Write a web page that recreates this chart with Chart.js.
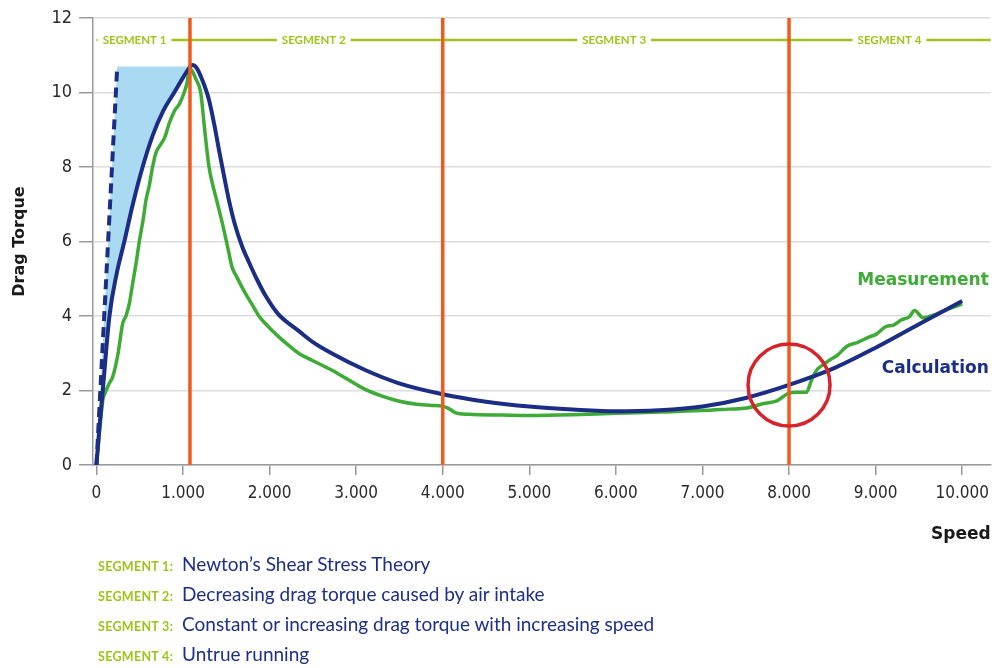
<!DOCTYPE html>
<html>
<head>
<meta charset="utf-8">
<script src="https://cdn.jsdelivr.net/npm/chart.js@4.4.1/dist/chart.umd.min.js"></script>
<style>
  html, body { margin: 0; padding: 0; background: #fff; }
  #wrap { position: relative; width: 997px; height: 668px; }
  #notes { position: absolute; left: 98px; top: 550px; font-family: Lato, "Noto Sans", sans-serif; }
  #notes div { height: 30px; line-height: 28px; white-space: nowrap; }
  #notes .seg { display: inline-block; width: 84px; color: #9dc41a; font-weight: bold; font-size: 12.5px; letter-spacing: 0.3px; }
  #notes .txt { color: #1d2f86; font-size: 19px; }
</style>
</head>
<body>
<div id="wrap">
  <canvas id="chart" width="997" height="668"></canvas>
  <div id="notes"></div>
</div>
<script>
// calculation curve (speed, drag torque)
const calcX = [0, 30, 73, 150, 230, 322, 420, 533, 650, 770, 898, 1000, 1060, 1108, 1160, 1220, 1300, 1360, 1415, 1470, 1530, 1600, 1684, 1760, 1850, 1952, 2100, 2336, 2500, 2716, 3103, 3487, 4000, 4500, 5000, 5500, 6000, 6500, 7000, 7500, 8000, 8500, 9000, 9500, 10000];
const calcY = [0, 0.9, 2.0, 4.0, 5.1, 6.0, 7.0, 8.0, 8.85, 9.5, 10.0, 10.4, 10.62, 10.74, 10.65, 10.35, 9.8, 9.15, 8.46, 7.8, 7.11, 6.45, 5.86, 5.45, 5.0, 4.55, 4.05, 3.6, 3.3, 3.0, 2.55, 2.2, 1.9, 1.7, 1.57, 1.49, 1.44, 1.47, 1.57, 1.8, 2.15, 2.58, 3.15, 3.78, 4.4];

// measured curve
const measX = [0, 40, 73, 112, 150, 188, 250, 303, 341, 380, 420, 457, 495, 540, 572, 610, 648, 690, 740, 790, 840, 900, 960, 1013, 1050, 1070, 1100, 1150, 1204, 1250, 1300, 1340, 1400, 1453, 1511, 1568, 1620, 1722, 1800, 1876, 1950, 2106, 2200, 2336, 2500, 2716, 2900, 3103, 3300, 3487, 3700, 3870, 4000, 4080, 4150, 4300, 4700, 5000, 5500, 6000, 6500, 7000, 7300, 7514, 7706, 7860, 8000, 8100, 8200, 8260, 8320, 8400, 8470, 8560, 8665, 8800, 8930, 9000, 9125, 9200, 9300, 9390, 9450, 9550, 9700, 9850, 10000];
const measY = [0, 1.0, 1.74, 2.0, 2.2, 2.37, 3.0, 3.8, 4.0, 4.34, 4.9, 5.41, 6.0, 6.6, 7.11, 7.5, 8.0, 8.4, 8.6, 8.8, 9.17, 9.5, 9.7, 10.0, 10.3, 10.65, 10.6, 10.35, 10.0, 9.0, 8.0, 7.55, 7.0, 6.5, 5.9, 5.3, 5.05, 4.6, 4.3, 4.0, 3.8, 3.44, 3.25, 3.0, 2.8, 2.55, 2.3, 2.03, 1.85, 1.72, 1.63, 1.6, 1.58, 1.5, 1.4, 1.36, 1.34, 1.33, 1.35, 1.39, 1.42, 1.46, 1.5, 1.53, 1.65, 1.72, 1.93, 1.95, 1.95, 2.28, 2.55, 2.7, 2.82, 2.95, 3.18, 3.3, 3.44, 3.5, 3.72, 3.75, 3.9, 3.98, 4.15, 3.95, 4.05, 4.2, 4.32];

// Newton shear stress tangent (dashed)
const dashX = [0, 240];
const dashY = [0, 10.7];
const fillTopX = 1080;

// segment boundaries and headings
const segBounds = [1080, 4000, 8000];
const segHeadY = 11.41;
const segNames = ["SEGMENT 1", "SEGMENT 2", "SEGMENT 3", "SEGMENT 4"];
const segLabelX = [440, 2510, 5980, 9160];
const segNotes = [
  "Newton\u2019s Shear Stress Theory",
  "Decreasing drag torque caused by air intake",
  "Constant or increasing drag torque with increasing speed",
  "Untrue running"
];

const circleAt = { x: 8000, y: 2.15 };
const xTicks = [0, 1000, 2000, 3000, 4000, 5000, 6000, 7000, 8000, 9000, 10000];

const NAVY = "#1b2d85";
const GREEN = "#3dab35";
const LIME = "#9dc41a";
const ORANGE = "#f15a1c";
const RED = "#d7232c";
const TICK_FONT = '"DejaVu Sans Condensed", "Liberation Sans Narrow", Roboto, sans-serif';
const SMALL_FONT = 'Lato, "Noto Sans", sans-serif';
const BOLD_FONT = '"DejaVu Sans", Lato, sans-serif';

const pts = (xs, ys) => xs.map((x, i) => ({ x, y: ys[i] }));

// light blue area between the tangent and the calculation curve
const fillPts = [
  { x: dashX[0], y: dashY[0] },
  { x: dashX[1], y: dashY[1] },
  { x: fillTopX, y: dashY[1] },
  ...pts(calcX, calcY).filter((p) => p.x < fillTopX && p.x > 0).reverse(),
];

const boundSets = segBounds.map((b) => ({
  data: [{ x: b, y: 0 }, { x: b, y: 12 }],
  showLine: true, borderColor: ORANGE, borderWidth: 3.5, pointRadius: 0, order: 1,
}));

const annotations = {
  id: "annotations",
  afterDatasetsDraw(chart) {
    const { ctx, scales: { x, y }, chartArea } = chart;
    ctx.save();
    ctx.font = "bold 11.5px " + SMALL_FONT;
    ctx.textAlign = "center";
    ctx.textBaseline = "middle";
    segNames.forEach((name, i) => {
      const px = x.getPixelForValue(segLabelX[i]);
      const py = y.getPixelForValue(segHeadY);
      const w = ctx.measureText(name).width + 10;
      ctx.fillStyle = "#fff";
      ctx.fillRect(px - w / 2, py - 6, w, 12);
      ctx.fillStyle = LIME;
      ctx.fillText(name, px, py + 0.5);
    });
    ctx.font = "bold 17px " + BOLD_FONT;
    ctx.textAlign = "right";
    ctx.fillStyle = GREEN;
    ctx.fillText("Measurement", chartArea.right - 2, y.getPixelForValue(4.94));
    ctx.fillStyle = NAVY;
    ctx.fillText("Calculation", chartArea.right - 2, y.getPixelForValue(2.58));
    ctx.restore();
  },
};

new Chart(document.getElementById("chart"), {
  type: "scatter",
  data: {
    datasets: [
      {
        data: fillPts, showLine: true, fill: "shape", borderWidth: 0,
        backgroundColor: "#a9daf2", pointRadius: 0, order: 6,
      },
      {
        data: [{ x: 0, y: segHeadY }, { x: 10330, y: segHeadY }],
        showLine: true, borderColor: LIME, borderWidth: 2.5, pointRadius: 0, order: 5,
      },
      {
        data: pts(dashX, dashY), showLine: true, borderColor: NAVY, borderWidth: 4,
        borderDash: [10, 6], pointRadius: 0, order: 4,
      },
      {
        data: pts(measX, measY), showLine: true, borderColor: GREEN, borderWidth: 3.5,
        pointRadius: 0, cubicInterpolationMode: "monotone", order: 3,
      },
      {
        data: pts(calcX, calcY), showLine: true, borderColor: NAVY, borderWidth: 4,
        pointRadius: 0, cubicInterpolationMode: "monotone", order: 2,
      },
      ...boundSets,
      {
        data: [circleAt], pointRadius: 41, pointBorderWidth: 3.5, pointBorderColor: RED,
        pointBackgroundColor: "rgba(0,0,0,0)", order: 0,
      },
    ],
  },
  options: {
    responsive: false,
    animation: false,
    events: [],
    layout: { autoPadding: false, padding: { top: 18, right: 2, bottom: 118, left: 0 } },
    plugins: { legend: { display: false }, tooltip: { enabled: false } },
    scales: {
      x: {
        type: "linear", min: -40, max: 10330,
        afterFit: (s) => { s.height = 85; },
        afterBuildTicks: (s) => { s.ticks = xTicks.map((v) => ({ value: v })); },
        ticks: {
          padding: 8, color: "#2a2a2a", font: { family: TICK_FONT, size: 17 },
          callback: (v) => v.toLocaleString("de-DE"),
        },
        grid: { drawOnChartArea: false, drawTicks: true, tickLength: 10, color: "#9a9a9a", lineWidth: 1.5 },
        border: { display: true, color: "#9a9a9a", width: 1.5 },
        title: {
          display: true, text: "Speed", align: "end", color: "#1a1a1a",
          font: { family: BOLD_FONT, size: 17, weight: "bold" }, padding: { top: 0, bottom: 5 },
        },
      },
      y: {
        min: 0, max: 12,
        afterFit: (s) => { s.width = 93; },
        ticks: { stepSize: 2, padding: 7, color: "#2a2a2a", font: { family: TICK_FONT, size: 18 } },
        grid: { color: "#dcdce2", lineWidth: 1.5, tickLength: 14, tickColor: "#9a9a9a" },
        border: { display: true, color: "#9a9a9a", width: 1.5 },
        title: {
          display: true, text: "Drag Torque", color: "#1a1a1a",
          font: { family: BOLD_FONT, size: 16, weight: "bold" }, padding: { top: 10, bottom: 0 },
        },
      },
    },
  },
  plugins: [annotations],
});

const notes = document.getElementById("notes");
segNotes.forEach((t, i) => {
  const row = document.createElement("div");
  row.innerHTML = '<span class="seg">' + segNames[i] + ':</span><span class="txt">' + t + "</span>";
  notes.appendChild(row);
});
</script>
</body>
</html>
